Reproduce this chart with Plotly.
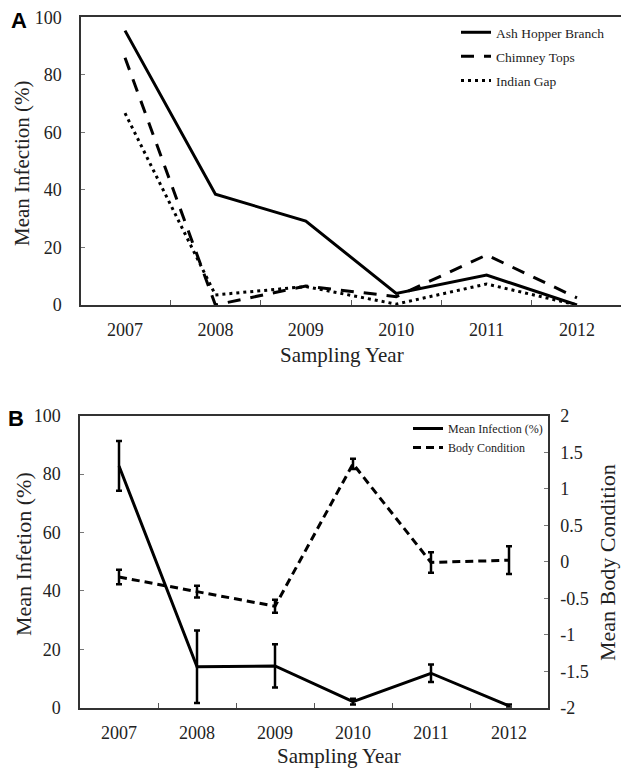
import plotly.graph_objects as go

# ---------------- data ----------------
years = ["2007", "2008", "2009", "2010", "2011", "2012"]

# Panel A: mean infection (%) by site
ash_hopper = [95.4, 38.5, 29.2, 4.0, 10.4, 0.0]
chimney_tops = [86.0, 0.0, 6.6, 2.9, 17.4, 2.5]
indian_gap = [66.7, 3.5, 6.4, 0.3, 7.3, 0.0]

# Panel B: overall mean infection (%) and body condition with errors
mean_infection = [82.8, 14.0, 14.3, 2.1, 11.8, 0.6]
mean_infection_err = [8.5, 12.4, 7.4, 1.0, 3.0, 0.5]
body_condition = [-0.21, -0.41, -0.61, 1.34, -0.01, 0.02]
body_condition_err = [0.10, 0.08, 0.09, 0.07, 0.14, 0.19]

left_ticks = [0, 20, 40, 60, 80, 100]
right_tickvals = [-2, -1.5, -1, -0.5, 0, 0.5, 1, 1.5, 2]
right_ticktext = ["-2", "-1.5", "-1", "-0.5", "0", "0.5", "1", "1.5", "2"]

# ---------------- figure ----------------
W, H = 621, 772
SERIF = "Liberation Serif"
SANS = "Liberation Sans"
AX = "#333333"
TXT = "#222222"

def px(x):
    return x / W

def py(y):
    return 1 - y / H

fig = go.Figure()

fig.add_trace(go.Scatter(x=years, y=ash_hopper, name="Ash Hopper Branch", mode="lines",
                         line=dict(color="black", width=3), xaxis="x", yaxis="y",
                         legend="legend", legendgroup="a1"))
fig.add_trace(go.Scatter(x=years, y=chimney_tops, name="Chimney Tops", mode="lines",
                         line=dict(color="black", width=3, dash="13px,10px"), xaxis="x", yaxis="y",
                         legend="legend", legendgroup="a2"))
fig.add_trace(go.Scatter(x=years, y=indian_gap, name="Indian Gap", mode="lines",
                         line=dict(color="black", width=3, dash="3px,4px"), xaxis="x", yaxis="y",
                         legend="legend", legendgroup="a3"))

fig.add_trace(go.Scatter(x=years, y=mean_infection, name="Mean Infection (%)", mode="lines",
                         line=dict(color="black", width=3),
                         error_y=dict(type="data", array=mean_infection_err, color="black",
                                      thickness=2.5, width=3),
                         xaxis="x2", yaxis="y2", legend="legend2"))
fig.add_trace(go.Scatter(x=years, y=body_condition, name="Body Condition", mode="lines",
                         line=dict(color="black", width=3, dash="8px,5px"),
                         error_y=dict(type="data", array=body_condition_err, color="black",
                                      thickness=2.5, width=3),
                         xaxis="x2", yaxis="y3", legend="legend2"))

common_x = dict(type="category", tickson="boundaries", ticks="inside", ticklen=5,
                tickcolor="#555555", tickwidth=1, showline=True, linecolor=AX, linewidth=1.5,
                mirror=True, showgrid=False, zeroline=False, automargin=False,
                ticklabeloverflow="allow",
                tickfont=dict(family=SERIF, size=18, color=TXT), ticklabelstandoff=8)
common_y = dict(ticks="inside", ticklen=4, tickcolor="#777777", tickwidth=1, showline=True,
                linecolor=AX, linewidth=1.5, showgrid=False, zeroline=False, automargin=False,
                ticklabeloverflow="allow",
                tickfont=dict(family=SERIF, size=18, color=TXT), ticklabelstandoff=14)

fig.update_layout(
    width=W, height=H, autosize=False,
    margin=dict(l=0, r=0, t=0, b=0, pad=0, autoexpand=False),
    paper_bgcolor="white", plot_bgcolor="white",
    showlegend=True,
    xaxis=dict(common_x, domain=[px(81), 1.0], anchor="y", range=[-0.487, 5.487]),
    yaxis=dict(common_y, domain=[py(305), py(17.4)], anchor="x", range=[0, 100],
               tickvals=left_ticks),
    xaxis2=dict(common_x, domain=[px(80), px(548)], anchor="y2", range=[-0.5, 5.5]),
    yaxis2=dict(common_y, domain=[py(707.7), py(415.7)], anchor="x2", range=[0, 100],
                tickvals=left_ticks),
    yaxis3=dict(common_y, overlaying="y2", side="right", anchor="x2", range=[-2, 2],
                tickvals=right_tickvals, ticktext=right_ticktext, ticklabelstandoff=7),
    legend=dict(x=px(456), y=py(17), xanchor="left", yanchor="top",
                font=dict(family=SERIF, size=13.5, color=TXT),
                bgcolor="rgba(0,0,0,0)", traceorder="grouped", tracegroupgap=3.5,
                itemwidth=30),
    legend2=dict(x=px(408), y=py(414), xanchor="left", yanchor="top",
                 font=dict(family=SERIF, size=12, color=TXT),
                 bgcolor="rgba(0,0,0,0)", itemwidth=30),
)

def note(text, x, y, size, family=SERIF, angle=0):
    return dict(text=text, x=px(x), y=py(y), xref="paper", yref="paper",
                xanchor="center", yanchor="middle", textangle=angle,
                font=dict(family=family, size=size, color=TXT if family == SERIF else "black"),
                showarrow=False)

annotations = [
    note("<b>A</b>", 19, 21, 22, SANS),
    note("<b>B</b>", 16, 418.5, 22, SANS),
    note("Mean Infection (%)", 22, 163, 21, angle=-90),
    note("Sampling Year", 341.5, 355, 21),
    note("Mean Infetion (%)", 23, 554, 22, angle=-90),
    note("Sampling Year", 338.5, 756, 21),
    note("Mean Body Condition", 607.5, 562.5, 22, angle=-90),
]
fig.update_layout(annotations=annotations)

# remove the default page margin so the figure fills the window exactly
fig.write_html("out.html",
               config={"displayModeBar": False},
               post_script="document.body.style.margin='0';document.body.style.overflow='hidden';")
